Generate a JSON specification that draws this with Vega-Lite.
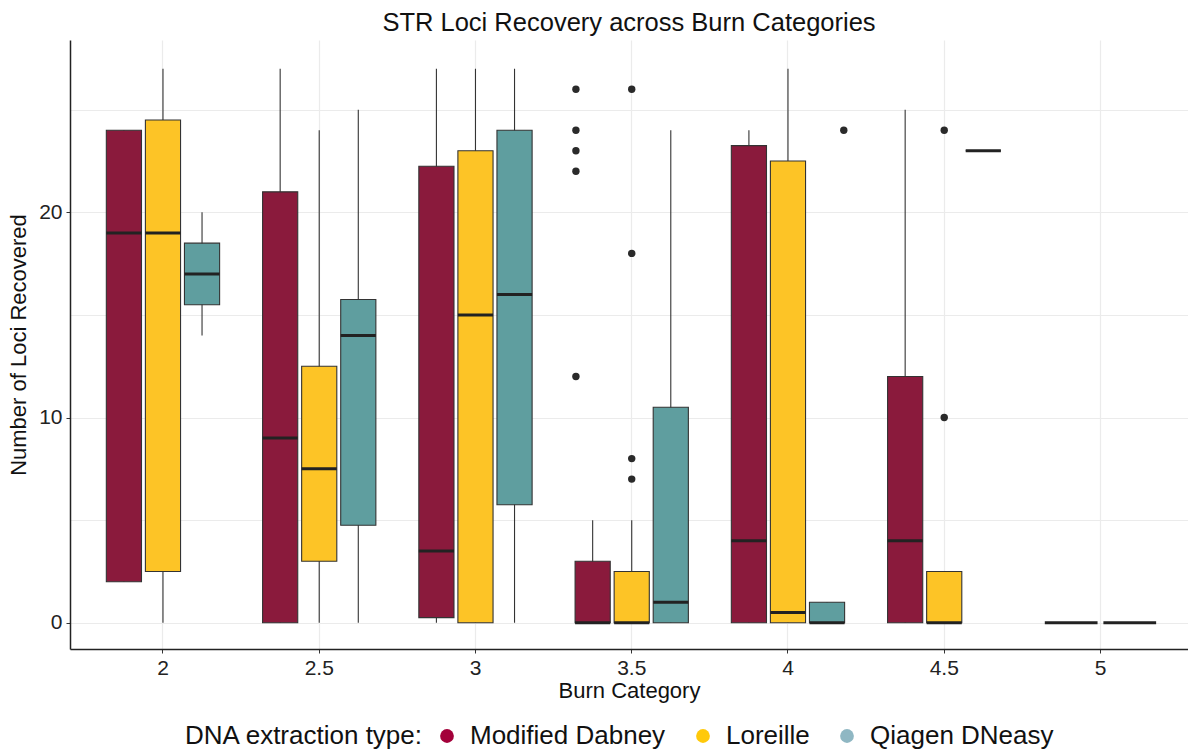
{
  "$schema": "https://vega.github.io/schema/vega-lite/v6.json",
  "width": 1118,
  "height": 609,
  "autosize": {"type": "none"},
  "padding": {"left": 70, "top": 40, "right": 0, "bottom": 103},
  "background": "white",
  "title": {
    "text": "STR Loci Recovery across Burn Categories",
    "font": "Liberation Sans",
    "fontSize": 25.5,
    "fontWeight": "normal",
    "color": "#111111",
    "anchor": "middle",
    "offset": 4
  },
  "datasets": {
    "boxes": [
      {"burn": "2", "method": "Modified Dabney", "lower": 2, "q1": 2, "median": 19, "q3": 24, "upper": 24},
      {"burn": "2", "method": "Loreille", "lower": 0, "q1": 2.5, "median": 19, "q3": 24.5, "upper": 27},
      {"burn": "2", "method": "Qiagen DNeasy", "lower": 14, "q1": 15.5, "median": 17, "q3": 18.5, "upper": 20},
      {"burn": "2.5", "method": "Modified Dabney", "lower": 0, "q1": 0, "median": 9, "q3": 21, "upper": 27},
      {"burn": "2.5", "method": "Loreille", "lower": 0, "q1": 3, "median": 7.5, "q3": 12.5, "upper": 24},
      {"burn": "2.5", "method": "Qiagen DNeasy", "lower": 0, "q1": 4.75, "median": 14, "q3": 15.75, "upper": 25},
      {"burn": "3", "method": "Modified Dabney", "lower": 0, "q1": 0.25, "median": 3.5, "q3": 22.25, "upper": 27},
      {"burn": "3", "method": "Loreille", "lower": 0, "q1": 0, "median": 15, "q3": 23, "upper": 27},
      {"burn": "3", "method": "Qiagen DNeasy", "lower": 0, "q1": 5.75, "median": 16, "q3": 24, "upper": 27},
      {"burn": "3.5", "method": "Modified Dabney", "lower": 0, "q1": 0, "median": 0, "q3": 3, "upper": 5},
      {"burn": "3.5", "method": "Loreille", "lower": 0, "q1": 0, "median": 0, "q3": 2.5, "upper": 5},
      {"burn": "3.5", "method": "Qiagen DNeasy", "lower": 0, "q1": 0, "median": 1, "q3": 10.5, "upper": 24},
      {"burn": "4", "method": "Modified Dabney", "lower": 0, "q1": 0, "median": 4, "q3": 23.25, "upper": 24},
      {"burn": "4", "method": "Loreille", "lower": 0, "q1": 0, "median": 0.5, "q3": 22.5, "upper": 27},
      {"burn": "4", "method": "Qiagen DNeasy", "lower": 0, "q1": 0, "median": 0, "q3": 1, "upper": 1},
      {"burn": "4.5", "method": "Modified Dabney", "lower": 0, "q1": 0, "median": 4, "q3": 12, "upper": 25},
      {"burn": "4.5", "method": "Loreille", "lower": 0, "q1": 0, "median": 0, "q3": 2.5, "upper": 2.5},
      {"burn": "4.5", "method": "Qiagen DNeasy", "lower": 23, "q1": 23, "median": 23, "q3": 23, "upper": 23}
    ],
    "boxes5": [
      {"burn": "5", "method": "Modified Dabney", "lower": 0, "q1": 0, "median": 0, "q3": 0, "upper": 0},
      {"burn": "5", "method": "Loreille", "lower": 0, "q1": 0, "median": 0, "q3": 0, "upper": 0}
    ],
    "outliers": [
      {"burn": "3.5", "method": "Modified Dabney", "value": 26},
      {"burn": "3.5", "method": "Modified Dabney", "value": 24},
      {"burn": "3.5", "method": "Modified Dabney", "value": 23},
      {"burn": "3.5", "method": "Modified Dabney", "value": 22},
      {"burn": "3.5", "method": "Modified Dabney", "value": 12},
      {"burn": "3.5", "method": "Loreille", "value": 26},
      {"burn": "3.5", "method": "Loreille", "value": 18},
      {"burn": "3.5", "method": "Loreille", "value": 8},
      {"burn": "3.5", "method": "Loreille", "value": 7},
      {"burn": "4", "method": "Qiagen DNeasy", "value": 24},
      {"burn": "4.5", "method": "Loreille", "value": 24},
      {"burn": "4.5", "method": "Loreille", "value": 10}
    ]
  },
  "encoding": {
    "x": {
      "field": "burn",
      "type": "ordinal",
      "scale": {"domain": ["2", "2.5", "3", "3.5", "4", "4.5", "5"], "paddingInner": 0.25, "paddingOuter": 0.2026, "align": 0.543},
      "axis": {
        "title": "Burn Category",
        "labelAngle": 0,
        "bandPosition": 0.5,
        "labelFont": "Liberation Sans",
        "labelFontSize": 21,
        "labelColor": "#222222",
        "labelPadding": 4,
        "titleFont": "Liberation Sans",
        "titleFontSize": 22,
        "titleFontWeight": "normal",
        "titleColor": "#111111",
        "titlePadding": 2,
        "domainColor": "#222222",
        "domainWidth": 1.5,
        "tickColor": "#333333",
        "tickSize": 4,
        "grid": true,
        "gridColor": "#ebebeb",
        "gridWidth": 1.2
      }
    },
    "y": {
      "type": "quantitative",
      "scale": {"domain": [-1.28, 28.4], "nice": false, "zero": false},
      "axis": {
        "title": "Number of Loci Recovered",
        "values": [0, 5, 10, 15, 20, 25],
        "labelExpr": "datum.value % 10 === 0 ? datum.label : ''",
        "labelFont": "Liberation Sans",
        "labelFontSize": 21,
        "labelColor": "#222222",
        "labelPadding": 4,
        "titleFont": "Liberation Sans",
        "titleFontSize": 22,
        "titleFontWeight": "normal",
        "titleColor": "#111111",
        "titlePadding": 8,
        "domainColor": "#222222",
        "domainWidth": 1.5,
        "tickColor": {"condition": {"test": "datum.value % 10 === 0", "value": "#333333"}, "value": "transparent"},
        "tickSize": 4,
        "grid": true,
        "gridColor": "#ebebeb",
        "gridWidth": 1.2
      }
    }
  },
  "layer": [
    {
      "data": {"name": "boxes"},
      "mark": {"type": "rule", "color": "#333333", "strokeWidth": 1.1},
      "encoding": {
        "xOffset": {"field": "method", "type": "nominal", "scale": {"domain": ["Modified Dabney", "Loreille", "Qiagen DNeasy"], "paddingInner": 0.1, "paddingOuter": 0.05}},
        "y": {"field": "lower", "type": "quantitative"},
        "y2": {"field": "upper"}
      }
    },
    {
      "data": {"name": "boxes"},
      "mark": {"type": "bar", "stroke": "#333333", "strokeWidth": 1.1, "opacity": 1},
      "encoding": {
        "xOffset": {"field": "method", "type": "nominal", "scale": {"domain": ["Modified Dabney", "Loreille", "Qiagen DNeasy"], "paddingInner": 0.1, "paddingOuter": 0.05}},
        "y": {"field": "q1", "type": "quantitative"},
        "y2": {"field": "q3"},
        "fill": {
          "field": "method",
          "type": "nominal",
          "scale": {"domain": ["Loreille", "Modified Dabney", "Qiagen DNeasy"], "range": ["#fdc426", "#8a1a3c", "#5f9e9f"]},
          "legend": null
        }
      }
    },
    {
      "data": {"name": "boxes"},
      "mark": {"type": "bar", "fill": null, "stroke": "#222222", "strokeWidth": 3, "opacity": 1},
      "encoding": {
        "xOffset": {"field": "method", "type": "nominal", "scale": {"domain": ["Modified Dabney", "Loreille", "Qiagen DNeasy"], "paddingInner": 0.1, "paddingOuter": 0.05}},
        "y": {"field": "median", "type": "quantitative"},
        "y2": {"field": "median"}
      }
    },
    {
      "data": {"name": "outliers"},
      "mark": {"type": "point", "filled": true, "color": "#2a2a2a", "size": 55, "opacity": 1},
      "encoding": {
        "xOffset": {"field": "method", "type": "nominal", "scale": {"domain": ["Modified Dabney", "Loreille", "Qiagen DNeasy"], "paddingInner": 0.1, "paddingOuter": 0.05}},
        "y": {"field": "value", "type": "quantitative"}
      }
    },
    {
      "data": {"name": "boxes"},
      "mark": {"type": "point", "filled": true, "opacity": 0},
      "encoding": {
        "xOffset": {"field": "method", "type": "nominal", "scale": {"domain": ["Modified Dabney", "Loreille", "Qiagen DNeasy"], "paddingInner": 0.1, "paddingOuter": 0.05}},
        "y": {"field": "median", "type": "quantitative"},
        "color": {
          "field": "method",
          "type": "nominal",
          "scale": {"domain": ["Modified Dabney", "Loreille", "Qiagen DNeasy"], "range": ["#a3003a", "#ffc90a", "#8fb7c3"]},
          "legend": {
            "title": "DNA extraction type:",
            "orient": "none",
            "direction": "horizontal",
            "legendX": 115,
            "legendY": 683,
            "titleOrient": "left",
            "titleFont": "Liberation Sans",
            "titleFontSize": 26,
            "titleFontWeight": "normal",
            "titleColor": "#111111",
            "titleBaseline": "middle",
            "titlePadding": 10,
            "titleLimit": 0,
            "labelFont": "Liberation Sans",
            "labelFontSize": 26,
            "labelColor": "#111111",
            "labelLimit": 0,
            "symbolType": "circle",
            "symbolSize": 190,
            "symbolOpacity": 1,
            "symbolStrokeWidth": 0,
            "columnPadding": 24,
            "labelOffset": 10
          }
        }
      }
    },
    {
      "data": {"name": "boxes5"},
      "mark": {"type": "bar", "fill": null, "stroke": "#222222", "strokeWidth": 3, "opacity": 1},
      "encoding": {
        "xOffset": {"field": "method", "type": "nominal", "scale": {"domain": ["Modified Dabney", "Loreille"], "paddingInner": 0.1, "paddingOuter": 0.05}},
        "y": {"field": "median", "type": "quantitative"},
        "y2": {"field": "median"}
      }
    }
  ],
  "resolve": {"scale": {"xOffset": "independent"}},
  "config": {
    "view": {"stroke": null},
    "font": "Liberation Sans"
  }
}
